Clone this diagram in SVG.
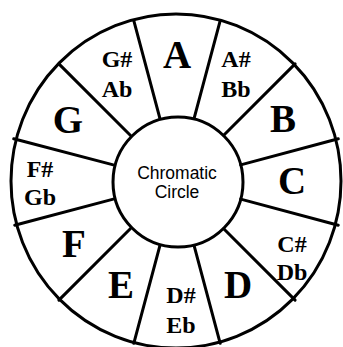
<svg xmlns="http://www.w3.org/2000/svg" width="343" height="347" viewBox="0 0 343 347">
<style>
.ln{stroke:#000;stroke-width:3;fill:none;stroke-linecap:round}
.big{font-family:"Liberation Serif","Times New Roman",serif;font-weight:bold;font-size:39px;text-anchor:middle;fill:#000}
.sm{font-family:"Liberation Serif","Times New Roman",serif;font-weight:bold;font-size:24px;text-anchor:middle;fill:#000}
.ctr{font-family:"Liberation Sans",Arial,sans-serif;font-size:17.5px;text-anchor:middle;fill:#000}
</style>
<rect width="343" height="347" fill="#fff"/>
<g id="outer-ring">
<ellipse cx="176" cy="181" rx="165" ry="167" fill="#fff" class="ln"/>
</g>
<g id="connectors">
<line class="ln" x1="194.1" y1="118.3" x2="220.2" y2="20.7"/>
<line class="ln" x1="159.9" y1="118.3" x2="133.8" y2="20.7"/>
<line class="ln" x1="223.7" y1="135.3" x2="295.1" y2="63.9"/>
<line class="ln" x1="130.3" y1="135.3" x2="58.9" y2="63.9"/>
<line class="ln" x1="240.7" y1="164.9" x2="338.3" y2="138.8"/>
<line class="ln" x1="113.3" y1="164.9" x2="13.7" y2="138.8"/>
<line class="ln" x1="240.7" y1="199.1" x2="338.3" y2="225.2"/>
<line class="ln" x1="113.3" y1="199.1" x2="14.7" y2="225.2"/>
<line class="ln" x1="223.7" y1="228.7" x2="295.1" y2="300.1"/>
<line class="ln" x1="130.3" y1="228.7" x2="58.9" y2="300.1"/>
<line class="ln" x1="194.1" y1="245.7" x2="220.2" y2="343.3"/>
<line class="ln" x1="159.9" y1="245.7" x2="133.8" y2="343.3"/>
</g>
<g id="center">
<circle cx="178" cy="182" r="65" fill="#fff" class="ln"/>
<text class="ctr" x="177" y="179">Chromatic</text>
<text class="ctr" x="177" y="198">Circle</text>
</g>
<g id="note-A"><text class="big" x="177" y="68">A</text></g>
<g id="note-AsBb"><text class="sm" x="236" y="67">A#</text><text class="sm" x="236" y="97">Bb</text></g>
<g id="note-B"><text class="big" x="283" y="132">B</text></g>
<g id="note-C"><text class="big" x="292" y="194">C</text></g>
<g id="note-CsDb"><text class="sm" x="292" y="252">C#</text><text class="sm" x="292" y="280">Db</text></g>
<g id="note-D"><text class="big" x="238" y="298">D</text></g>
<g id="note-DsEb"><text class="sm" x="181" y="303">D#</text><text class="sm" x="181" y="333">Eb</text></g>
<g id="note-E"><text class="big" x="121" y="298">E</text></g>
<g id="note-F"><text class="big" x="74" y="257">F</text></g>
<g id="note-FsGb"><text class="sm" x="40" y="177">F#</text><text class="sm" x="40" y="205">Gb</text></g>
<g id="note-G"><text class="big" x="68" y="133">G</text></g>
<g id="note-GsAb"><text class="sm" x="117" y="67">G#</text><text class="sm" x="117" y="97">Ab</text></g>
</svg>
